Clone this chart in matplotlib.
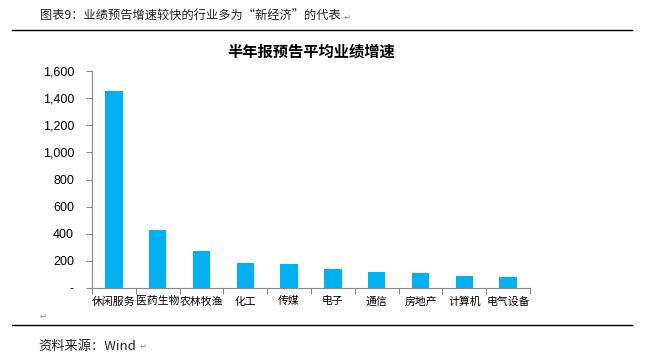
import numpy as np
import matplotlib.pyplot as plt
from matplotlib.ticker import FuncFormatter

plt.rcParams['font.family'] = ['Noto Sans CJK SC', 'DejaVu Sans']

# 数据
industries = ['休闲服务', '医药生物', '农林牧渔', '化工', '传媒', '电子', '通信', '房地产', '计算机', '电气设备']
growth = [1455, 428, 276, 183, 178, 137, 120, 107, 90, 83]
y_ticks = [0, 200, 400, 600, 800, 1000, 1200, 1400, 1600]

fig = plt.figure(figsize=(6.5, 3.61), dpi=100)

# 外框文字与线条
fig.text(40 / 650, 1 - 16 / 361, '图表9：业绩预告增速较快的行业多为“新经济”的代表', fontsize=8.8,
         color='#222222', va='center', ha='left')
fig.text(344 / 650, 1 - 17 / 361, '↵', fontsize=6, color='#888888', va='center', family=['DejaVu Sans'])
fig.add_artist(plt.Line2D([12 / 650, 632 / 650], [1 - 30 / 361, 1 - 30 / 361], color='black', lw=1))
fig.add_artist(plt.Line2D([12 / 650, 632 / 650], [1 - 325 / 361, 1 - 325 / 361], color='black', lw=1))
fig.text(40 / 650, 1 - 316 / 361, '↵', fontsize=6, color='#888888', va='center', family=['DejaVu Sans'])
fig.text(38 / 650, 1 - 346 / 361, '资料来源：Wind', fontsize=9.5, style='italic', color='#222222',
         va='center', ha='left')
fig.text(140 / 650, 1 - 346 / 361, '↵', fontsize=6, color='#888888', va='center', family=['DejaVu Sans'])

fig.text(311 / 650, 1 - 52 / 361, '半年报预告平均业绩增速', fontsize=11, fontweight='bold',
         ha='center', va='center')

# 柱状图
ax = fig.add_axes([92 / 650, 1 - 288 / 361, (530 - 92) / 650, (288 - 71) / 361])
x = np.arange(len(industries))
ax.bar(x, growth, width=0.4, color='#00B0F0', zorder=2)

ax.set_xlim(-0.5, len(industries) - 0.5)
ax.set_ylim(0, 1600)
ax.set_yticks(y_ticks)
ax.yaxis.set_major_formatter(FuncFormatter(lambda v, p: '-' if v == 0 else f'{int(v):,}'))
for lab in ax.get_yticklabels():
    lab.set_family(['Liberation Sans', 'DejaVu Sans'])
ax.tick_params(axis='y', labelsize=9, length=4, color='#888888', pad=9)

ax.set_xticks(np.arange(len(industries) + 1) - 0.5)
ax.set_xticklabels([])
ax.set_xticks(x, minor=True)
ax.set_xticklabels(industries, minor=True, fontsize=7.8)
ax.tick_params(axis='x', which='major', length=4, color='#888888')
ax.tick_params(axis='x', which='minor', length=0, pad=6)

for s in ['top', 'right']:
    ax.spines[s].set_visible(False)
ax.spines['left'].set_color('#888888')
ax.spines['bottom'].set_color('#888888')

fig.savefig('out.png', dpi=100)
